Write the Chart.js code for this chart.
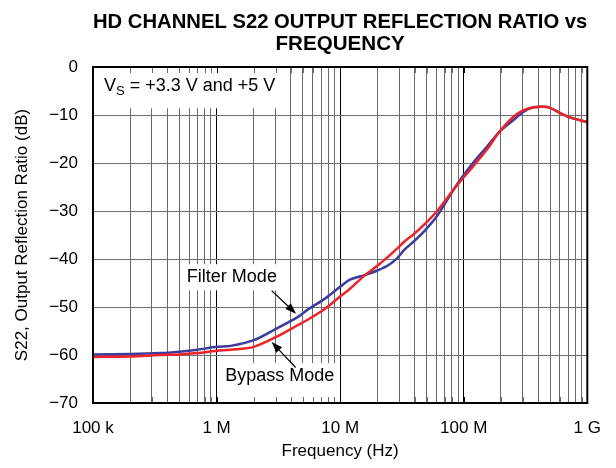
<!DOCTYPE html>
<html>
<head>
<meta charset="utf-8">
<script src="https://cdn.jsdelivr.net/npm/chart.js@4.4.1/dist/chart.umd.min.js"></script>
<style>
  html, body { margin: 0; padding: 0; background: #fff; }
</style>
</head>
<body>
<canvas id="grafico" width="616" height="468"></canvas>
<script>
// Dados (Hz / dB)
const frequencias = [1e5, 2e5, 3.5e5, 5e5, 7e5, 1e6, 1.3e6, 2e6, 3e6, 4.6e6, 5.5e6, 7.6e6, 1e7, 1.2e7, 1.6e7,
  2e7, 2.45e7, 2.9e7, 3.3e7, 4e7, 4.8e7, 6.1e7, 8.6e7, 1.13e8, 1.54e8, 1.96e8, 2.54e8, 3.06e8, 3.68e8, 4.43e8,
  5e8, 6.03e8, 7.26e8, 1e9];
const filterMode = [-59.9, -59.8, -59.6, -59.3, -58.9, -58.3, -58.1, -56.9, -54.6, -52.0, -50.5, -48.2, -45.8, -44.3, -43.3,
  -42.4, -41.3, -39.8, -38.1, -36.2, -34.2, -31.0, -24.9, -20.7, -16.6, -13.4, -11.0, -9.3, -8.4, -8.3,
  -8.5, -9.6, -10.5, -11.5];
const bypassMode = [-60.4, -60.3, -60.0, -59.9, -59.6, -59.1, -58.9, -58.3, -56.3, -53.7, -52.6, -50.3, -47.8, -46.2, -43.3,
  -41.4, -39.5, -37.8, -36.4, -34.7, -32.8, -30.0, -25.0, -21.4, -17.2, -13.4, -10.3, -9.0, -8.4, -8.3,
  -8.5, -9.6, -10.5, -11.5];
const decadas = [1e5, 1e6, 1e7, 1e8, 1e9];
const rotulosX = ["100 k", "1 M", "10 M", "100 M", "1 G"];
const ticksY = [0, -10, -20, -30, -40, -50, -60, -70];

const fonte = '"Liberation Sans", Arial, Helvetica, sans-serif';

// ticks do eixo log: 1..9 em cada década
const ticksX = [];
decadas.slice(0, -1).forEach(d => {
  for (let m = 1; m < 10; m++) ticksX.push(m * d);
});
ticksX.push(decadas[decadas.length - 1]);

const corGrade = v => decadas.includes(v) ? "#000" : "#6a6a6a";

// caixas de texto, setas e moldura
const anotacoes = {
  id: "anotacoes",
  beforeDatasetsDraw(chart) {
    const { ctx, chartArea: a, scales: { x, y } } = chart;
    ctx.save();
    ctx.fillStyle = "#fff";
    ctx.font = "18px " + fonte;
    ctx.textBaseline = "middle";

    // caixa V_S
    ctx.fillRect(a.left, a.top, x.getPixelForValue(3.5e6) - a.left, y.getPixelForValue(-8.6) - a.top);

    const caixaTexto = (txt, fx, dy) => {
      const cx = x.getPixelForValue(fx);
      const cy = y.getPixelForValue(dy);
      const w = ctx.measureText(txt).width;
      ctx.fillStyle = "#fff";
      ctx.fillRect(cx - w / 2 - 5, cy - 13, w + 10, 26);
      return { cx, cy, w };
    };
    const f = caixaTexto("Filter Mode", 1.33e6, -43.8);
    const b = caixaTexto("Bypass Mode", 3.24e6, -64.4);
    ctx.fillStyle = "#fff";
    ctx.fillRect(b.cx - b.w / 2 - 5, b.cy, b.w + 10, a.bottom - b.cy);

    // marcas internas nas bordas
    ctx.lineWidth = 1;
    ticksX.forEach(v => {
      const px = Math.round(x.getPixelForValue(v)) + 0.5;
      ctx.strokeStyle = corGrade(v);
      ctx.beginPath();
      ctx.moveTo(px, a.top); ctx.lineTo(px, a.top + 6);
      ctx.moveTo(px, a.bottom); ctx.lineTo(px, a.bottom - 6);
      ctx.stroke();
    });

    ctx.fillStyle = "#000";
    ctx.textAlign = "center";
    ctx.fillText("Filter Mode", f.cx, f.cy);
    ctx.fillText("Bypass Mode", b.cx, b.cy);

    // V_S = +3.3 V and +5 V
    ctx.textAlign = "left";
    let px = a.left + 11;
    const py = y.getPixelForValue(-4.0);
    ctx.fillText("V", px, py);
    px += ctx.measureText("V").width;
    ctx.font = "13px " + fonte;
    ctx.fillText("S", px, py + 5);
    px += ctx.measureText("S").width;
    ctx.font = "18px " + fonte;
    ctx.fillText(" = +3.3 V and +5 V", px, py);
    ctx.restore();
  },
  afterDatasetsDraw(chart) {
    const { ctx, chartArea: a, scales: { x, y } } = chart;
    ctx.save();
    const seta = (f0, d0, f1, d1) => {
      const x0 = x.getPixelForValue(f0), y0 = y.getPixelForValue(d0);
      const x1 = x.getPixelForValue(f1), y1 = y.getPixelForValue(d1);
      const ang = Math.atan2(y1 - y0, x1 - x0);
      ctx.strokeStyle = "#000";
      ctx.fillStyle = "#000";
      ctx.lineWidth = 1.2;
      ctx.beginPath();
      ctx.moveTo(x0, y0);
      ctx.lineTo(x1 - 8 * Math.cos(ang), y1 - 8 * Math.sin(ang));
      ctx.stroke();
      ctx.beginPath();
      ctx.moveTo(x1, y1);
      ctx.lineTo(x1 - 11 * Math.cos(ang) + 4 * Math.sin(ang), y1 - 11 * Math.sin(ang) - 4 * Math.cos(ang));
      ctx.lineTo(x1 - 11 * Math.cos(ang) - 4 * Math.sin(ang), y1 - 11 * Math.sin(ang) + 4 * Math.cos(ang));
      ctx.closePath();
      ctx.fill();
    };
    seta(2.79e6, -46.6, 4.4e6, -51.4);
    seta(4.36e6, -62.6, 2.79e6, -57.3);

    ctx.strokeStyle = "#000";
    ctx.lineWidth = 2;
    ctx.strokeRect(a.left, a.top, a.right - a.left, a.bottom - a.top);
    ctx.restore();
  }
};

new Chart(document.getElementById("grafico"), {
  type: "line",
  data: {
    datasets: [
      {
        label: "Bypass Mode",
        data: frequencias.map((f, i) => ({ x: f, y: bypassMode[i] })),
        borderColor: "#ec2328",
        borderWidth: 2.5,
        pointRadius: 0,
        tension: 0.3,
        order: 0
      },
      {
        label: "Filter Mode",
        data: frequencias.map((f, i) => ({ x: f, y: filterMode[i] })),
        borderColor: "#3b3c9d",
        borderWidth: 2.5,
        pointRadius: 0,
        tension: 0.3,
        order: 1
      }
    ]
  },
  options: {
    responsive: false,
    animation: false,
    layout: { padding: { left: 0, right: 25, top: 0, bottom: 0 } },
    plugins: {
      legend: { display: false },
      tooltip: { enabled: false },
      title: {
        display: true,
        fullSize: false,
        text: ["HD CHANNEL S22 OUTPUT REFLECTION RATIO vs", "FREQUENCY"],
        color: "#000",
        font: { family: fonte, size: 20.6, weight: "bold", lineHeight: 1.068 },
        padding: { top: 11.5, bottom: 11.5 }
      }
    },
    scales: {
      x: {
        type: "logarithmic",
        min: decadas[0],
        max: decadas[decadas.length - 1],
        afterBuildTicks: s => { s.ticks = ticksX.map(v => ({ value: v })); },
        afterFit: s => { s.height = 65; },
        grid: { color: c => corGrade(c.tick.value), lineWidth: 1, drawTicks: false },
        border: { color: "#000", width: 2 },
        ticks: {
          autoSkip: false,
          maxRotation: 0,
          padding: 15,
          color: "#000",
          font: { family: fonte, size: 17 },
          callback: v => {
            const i = decadas.indexOf(v);
            return i >= 0 ? rotulosX[i] : "";
          }
        },
        title: {
          display: true,
          text: "Frequency (Hz)",
          color: "#000",
          font: { family: fonte, size: 17 },
          padding: { top: 0, bottom: 6 }
        }
      },
      y: {
        min: ticksY[ticksY.length - 1],
        max: ticksY[0],
        afterBuildTicks: s => { s.ticks = ticksY.map(v => ({ value: v })); },
        afterFit: s => { s.width = 93; },
        grid: { color: "#6e6e6e", lineWidth: 1, drawTicks: false },
        border: { color: "#000", width: 2 },
        ticks: {
          padding: 15,
          color: "#000",
          font: { family: fonte, size: 17 },
          callback: v => v === 0 ? "0" : "\u2212" + Math.abs(v)
        },
        title: {
          display: true,
          text: "S22, Output Reflection Ratio (dB)",
          color: "#000",
          font: { family: fonte, size: 17 },
          padding: { top: 12, bottom: 0 }
        }
      }
    }
  },
  plugins: [anotacoes]
});
</script>
</body>
</html>
